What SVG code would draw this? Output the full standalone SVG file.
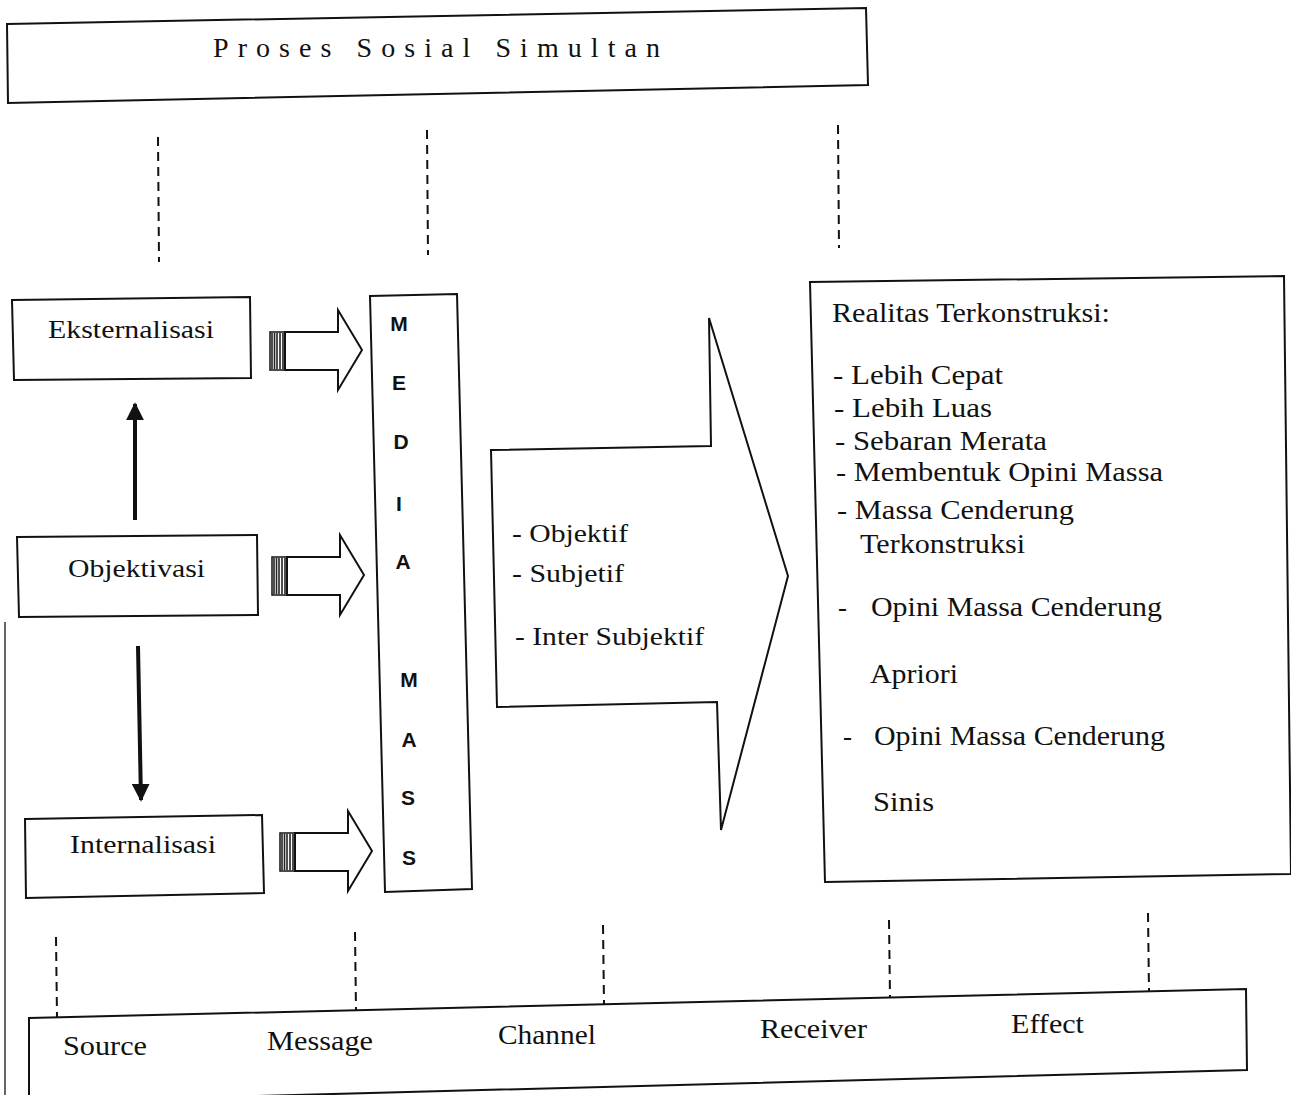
<svg xmlns="http://www.w3.org/2000/svg" width="1291" height="1095" viewBox="0 0 1291 1095">
<style>
.box{fill:#fff;stroke:#111;stroke-width:2}
.t{font-family:"Liberation Serif","Times New Roman",serif;fill:#111}
.s{font-family:"Liberation Sans",Arial,sans-serif;font-weight:bold;fill:#111;font-size:21px}
.dash{stroke:#111;stroke-width:2;stroke-dasharray:9 6;fill:none}
.stripe{stroke:#222;stroke-width:1.6}
</style>
<defs>
<g id="blockArrow">
<rect x="270" y="332" width="15" height="38" fill="#fff" stroke="#111" stroke-width="1.5"/>
<line class="stripe" x1="272" y1="333" x2="272" y2="369"/>
<line class="stripe" x1="274.5" y1="333" x2="274.5" y2="369"/>
<line class="stripe" x1="277" y1="333" x2="277" y2="369"/>
<line class="stripe" x1="280" y1="333" x2="280" y2="369"/>
<line class="stripe" x1="283" y1="333" x2="283" y2="369"/>
<polygon points="285,332 338,332 338,310 362,350 338,390 338,370 285,370" fill="#fff" stroke="#111" stroke-width="2"/>
</g>
<marker id="ah" viewBox="0 0 10 10" refX="9" refY="5" markerWidth="4.5" markerHeight="4.5" orient="auto">
<path d="M0,0 L10,5 L0,10 z" fill="#111"/>
</marker>
</defs>
<rect width="1291" height="1095" fill="#fff"/>

<g id="scan-edge"><line x1="5" y1="622" x2="5" y2="1095" stroke="#333" stroke-width="1.5"/></g>

<g id="proses-sosial">
<polygon class="box" points="7,24 866,8 868,85 8,103"/>
<text class="t" x="213" y="57" font-size="28" textLength="447" lengthAdjust="spacing">Proses Sosial Simultan</text>
</g>

<g id="eksternalisasi">
<polygon class="box" points="12,300 250,297 251,378 14,380"/>
<text class="t" x="48" y="338" font-size="26" textLength="166" lengthAdjust="spacingAndGlyphs">Eksternalisasi</text>
</g>
<g id="objektivasi">
<polygon class="box" points="17,537 257,535 258,615 19,617"/>
<text class="t" x="68" y="577" font-size="26" textLength="137" lengthAdjust="spacingAndGlyphs">Objektivasi</text>
</g>
<g id="internalisasi">
<polygon class="box" points="25,819 262,815 264,893 26,898"/>
<text class="t" x="70" y="853" font-size="26" textLength="146" lengthAdjust="spacingAndGlyphs">Internalisasi</text>
</g>

<g id="media-massa">
<polygon class="box" points="370,296 457,294 472,889 385,892"/>
<text class="s" x="399" y="331" text-anchor="middle">M</text>
<text class="s" x="399" y="390" text-anchor="middle">E</text>
<text class="s" x="401" y="449" text-anchor="middle">D</text>
<text class="s" x="399" y="511" text-anchor="middle">I</text>
<text class="s" x="403" y="569" text-anchor="middle">A</text>
<text class="s" x="409" y="687" text-anchor="middle">M</text>
<text class="s" x="409" y="747" text-anchor="middle">A</text>
<text class="s" x="408" y="805" text-anchor="middle">S</text>
<text class="s" x="409" y="865" text-anchor="middle">S</text>
</g>

<g id="big-arrow">
<polygon class="box" points="491,450 711,446 709,318 788,576 721,830 717,702 497,707"/>
<text class="t" x="512" y="542" font-size="26" textLength="116" lengthAdjust="spacingAndGlyphs">- Objektif</text>
<text class="t" x="512" y="582" font-size="26" textLength="112" lengthAdjust="spacingAndGlyphs">- Subjetif</text>
<text class="t" x="515" y="645" font-size="26" textLength="189" lengthAdjust="spacingAndGlyphs">- Inter Subjektif</text>
</g>

<g id="realitas">
<polygon class="box" points="810,282 1284,276 1291,874 825,882"/>
<text class="t" x="832" y="322" font-size="27" textLength="278" lengthAdjust="spacingAndGlyphs">Realitas Terkonstruksi:</text>
<text class="t" x="833" y="384" font-size="27" textLength="170" lengthAdjust="spacingAndGlyphs">- Lebih Cepat</text>
<text class="t" x="834" y="417" font-size="27" textLength="158" lengthAdjust="spacingAndGlyphs">- Lebih Luas</text>
<text class="t" x="835" y="450" font-size="27" textLength="212" lengthAdjust="spacingAndGlyphs">- Sebaran Merata</text>
<text class="t" x="836" y="481" font-size="27" textLength="327" lengthAdjust="spacingAndGlyphs">- Membentuk Opini Massa</text>
<text class="t" x="837" y="519" font-size="27" textLength="237" lengthAdjust="spacingAndGlyphs">- Massa Cenderung</text>
<text class="t" x="860" y="553" font-size="27" textLength="165" lengthAdjust="spacingAndGlyphs">Terkonstruksi</text>
<text class="t" x="838" y="616" font-size="27">-</text>
<text class="t" x="871" y="616" font-size="27" textLength="291" lengthAdjust="spacingAndGlyphs">Opini Massa Cenderung</text>
<text class="t" x="870" y="683" font-size="27" textLength="88" lengthAdjust="spacingAndGlyphs">Apriori</text>
<text class="t" x="843" y="745" font-size="27">-</text>
<text class="t" x="874" y="745" font-size="27" textLength="291" lengthAdjust="spacingAndGlyphs">Opini Massa Cenderung</text>
<text class="t" x="873" y="811" font-size="27" textLength="61" lengthAdjust="spacingAndGlyphs">Sinis</text>
</g>

<g id="smcre">
<polygon class="box" points="29,1018 1246,989 1247,1070 29,1102"/>
<text class="t" x="63" y="1055" font-size="28" textLength="84" lengthAdjust="spacingAndGlyphs">Source</text>
<text class="t" x="267" y="1050" font-size="28" textLength="106" lengthAdjust="spacingAndGlyphs">Message</text>
<text class="t" x="498" y="1044" font-size="28" textLength="98" lengthAdjust="spacingAndGlyphs">Channel</text>
<text class="t" x="760" y="1038" font-size="28" textLength="107" lengthAdjust="spacingAndGlyphs">Receiver</text>
<text class="t" x="1011" y="1033" font-size="28" textLength="73" lengthAdjust="spacingAndGlyphs">Effect</text>
</g>

<g id="connectors">
<line class="dash" x1="158" y1="137" x2="159" y2="262"/>
<line class="dash" x1="427" y1="130" x2="428" y2="255"/>
<line class="dash" x1="838" y1="125" x2="839" y2="248"/>
<line class="dash" x1="56" y1="937" x2="57" y2="1017"/>
<line class="dash" x1="355" y1="932" x2="356" y2="1010"/>
<line class="dash" x1="603" y1="925" x2="604" y2="1004"/>
<line class="dash" x1="889" y1="920" x2="890" y2="997"/>
<line class="dash" x1="1148" y1="913" x2="1149" y2="991"/>
<line x1="135" y1="520" x2="135" y2="404" stroke="#111" stroke-width="4" marker-end="url(#ah)"/>
<line x1="138" y1="646" x2="141" y2="800" stroke="#111" stroke-width="4" marker-end="url(#ah)"/>
<use href="#blockArrow"/>
<use href="#blockArrow" transform="translate(2,225)"/>
<use href="#blockArrow" transform="translate(10,501)"/>
</g>
</svg>
